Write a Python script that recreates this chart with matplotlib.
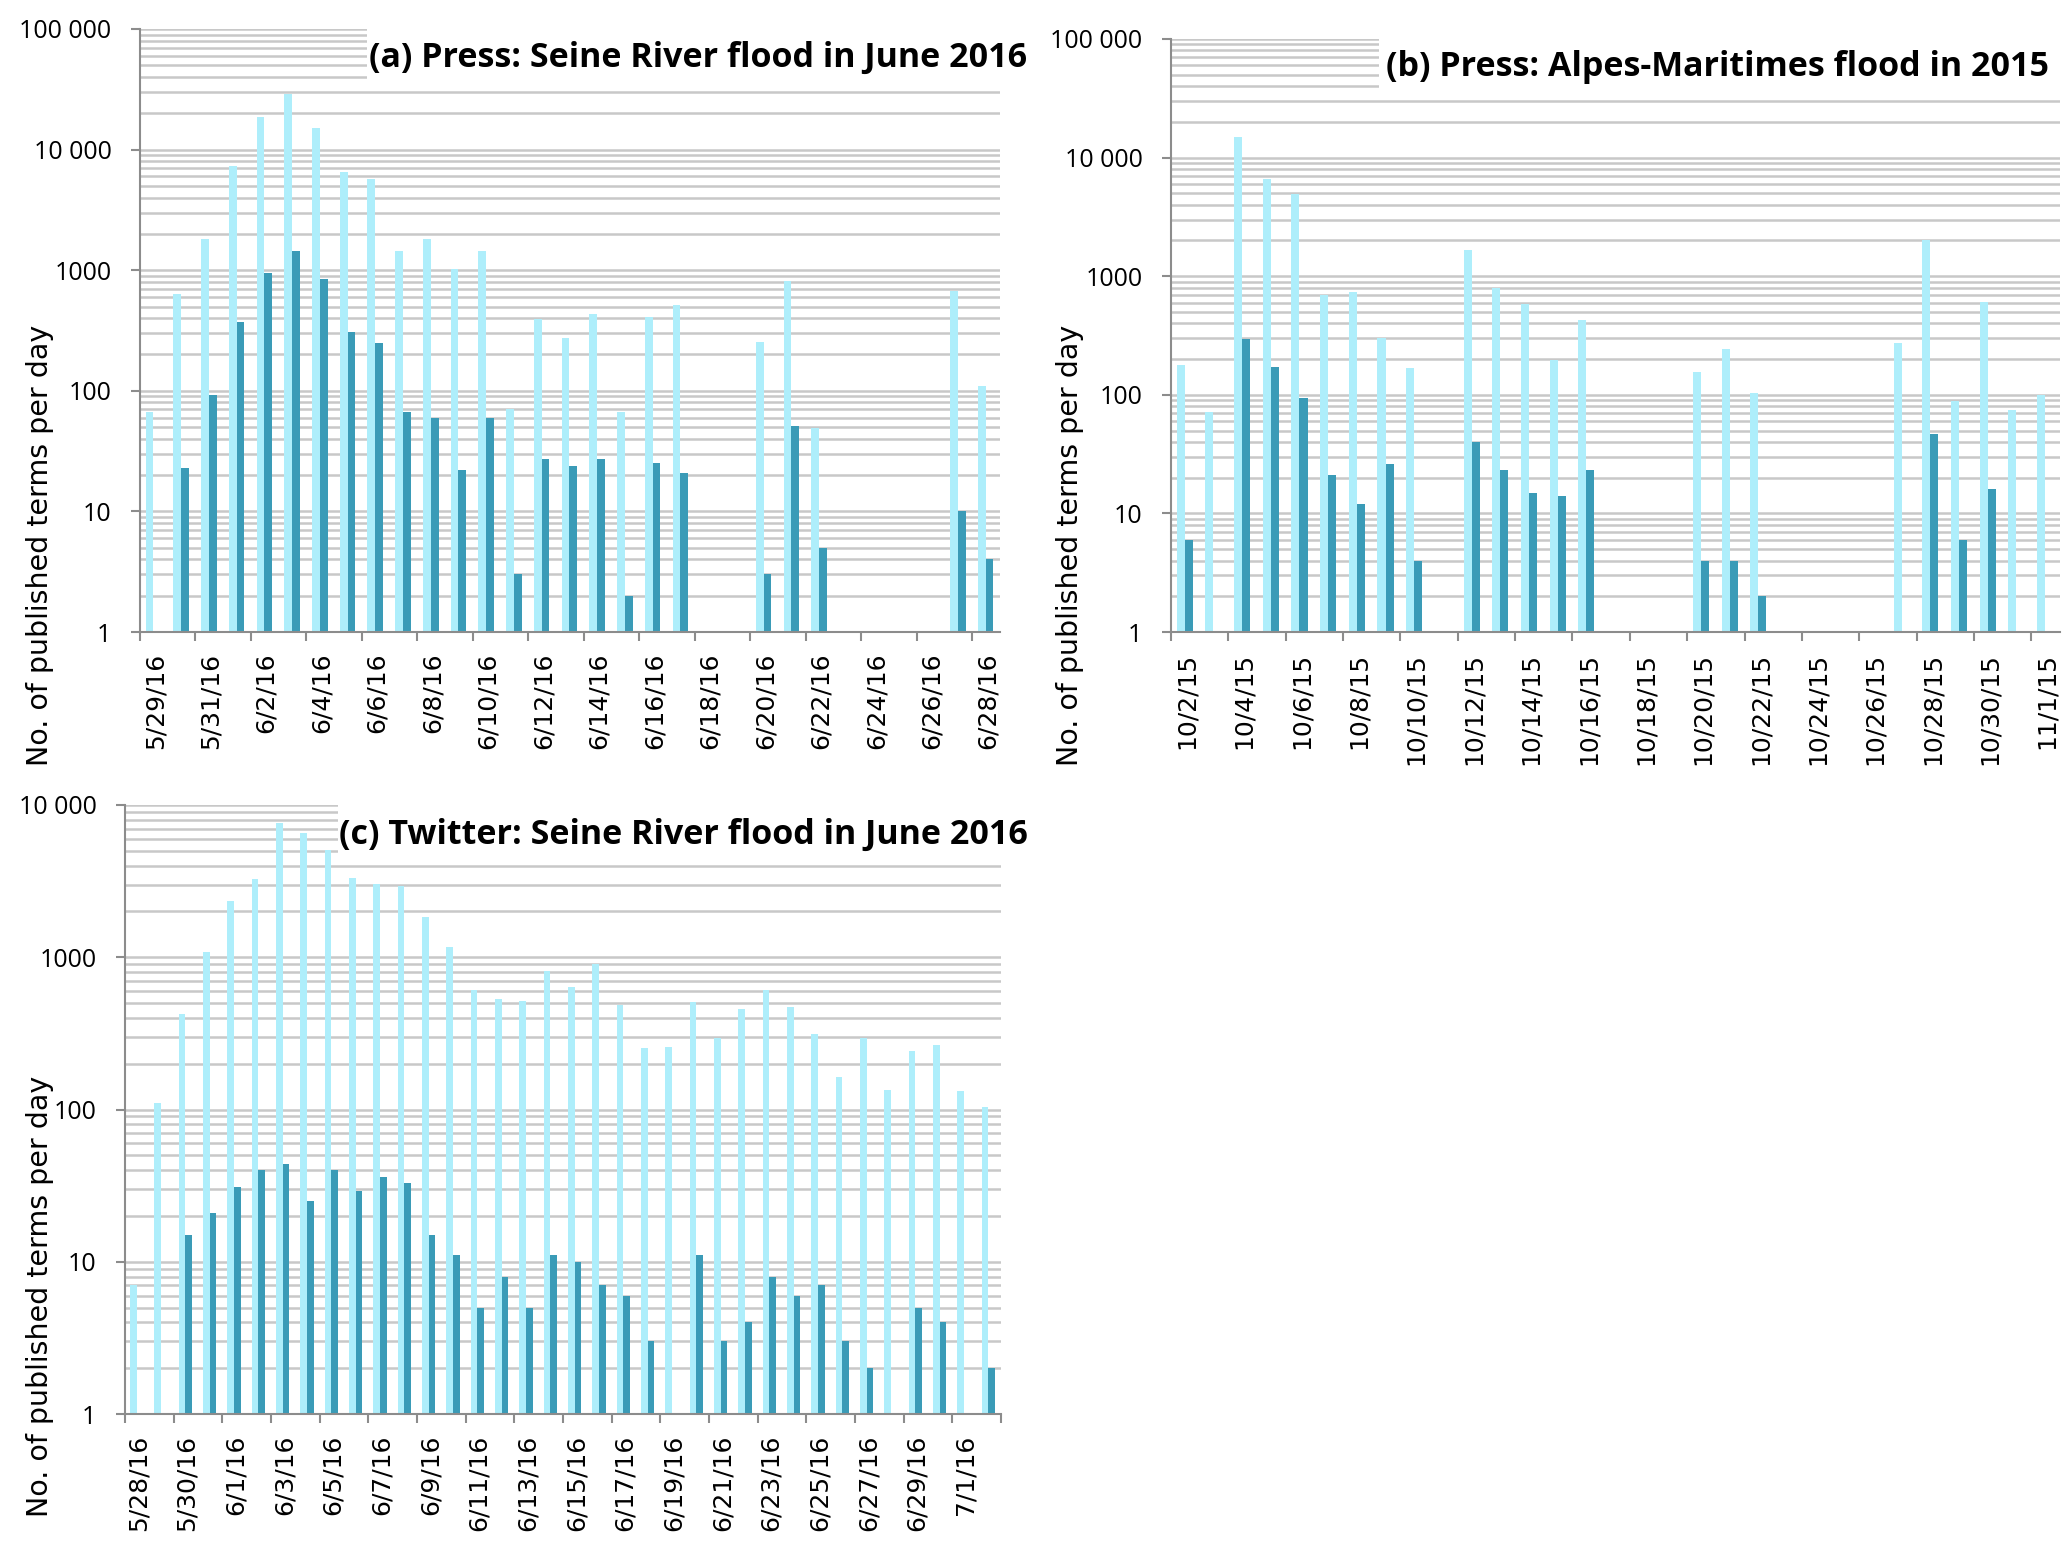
import numpy as np
import matplotlib
matplotlib.use("Agg")
import matplotlib.pyplot as plt
from matplotlib.patches import Rectangle

# ---- data ----
# (a) Press, Seine River flood, 5/29/16 .. 6/28/16
press_seine_all = [67, 640, 1830, 7300, 18800, 29000, 15200, 6500, 5700, 1430,
                   1820, 1030, 1430, 70, 395, 273, 435, 67, 413, 516,
                   0, 0, 253, 816, 49, 0, 0, 0, 0, 674, 109]
press_seine_sel = [0, 23, 92, 371, 944, 1455, 842, 306, 251, 67,
                   59, 22, 59, 3, 27, 24, 27, 2, 25, 21,
                   0, 0, 3, 51, 5, 0, 0, 0, 0, 10, 4]
ticks_a = ['5/29/16', '5/31/16', '6/2/16', '6/4/16', '6/6/16', '6/8/16',
           '6/10/16', '6/12/16', '6/14/16', '6/16/16', '6/18/16', '6/20/16',
           '6/22/16', '6/24/16', '6/26/16', '6/28/16']

# (b) Press, Alpes-Maritimes flood, 10/2/15 .. 11/1/15
press_am_all = [180, 72, 15000, 6570, 4970, 692, 738, 302, 167, 0,
                1656, 792, 581, 196, 431, 0, 0, 0, 156, 241,
                104, 0, 0, 0, 0, 274, 2037, 88, 608, 75, 100]
press_am_sel = [6, 0, 294, 170, 94, 21, 12, 26, 4, 0,
                40, 23, 15, 14, 23, 0, 0, 0, 4, 4,
                2, 0, 0, 0, 0, 0, 47, 6, 16, 0, 0]
ticks_b = ['10/2/15', '10/4/15', '10/6/15', '10/8/15', '10/10/15', '10/12/15',
           '10/14/15', '10/16/15', '10/18/15', '10/20/15', '10/22/15',
           '10/24/15', '10/26/15', '10/28/15', '10/30/15', '11/1/15']

# (c) Twitter, Seine River flood, 5/28/16 .. 7/2/16
tw_seine_all = [7, 111, 425, 1090, 2350, 3280, 7620, 6550, 5080, 3310,
                3040, 2935, 1836, 1161, 605, 534, 515, 815, 640, 897,
                487, 253, 257, 510, 296, 459, 605, 471, 314, 163,
                296, 135, 243, 267, 132, 104]
tw_seine_sel = [0, 0, 15, 21, 31, 40, 44, 25, 40, 29,
                36, 33, 15, 11, 5, 8, 5, 11, 10, 7,
                6, 3, 0, 11, 3, 4, 8, 6, 7, 3,
                2, 0, 5, 4, 0, 2]
ticks_c = ['5/28/16', '5/30/16', '6/1/16', '6/3/16', '6/5/16', '6/7/16',
           '6/9/16', '6/11/16', '6/13/16', '6/15/16', '6/17/16', '6/19/16',
           '6/21/16', '6/23/16', '6/25/16', '6/27/16', '6/29/16', '7/1/16']

LIGHT = '#aeeefb'
DARK = '#3a9bb7'
GRID = '#c8c8c8'
AXIS = '#8c8c8c'

W, H = 2067, 1550
fig = plt.figure(figsize=(W / 100, H / 100), dpi=100)


def px_rect(x0, y0, x1, y1):
    # pixel box (top-left origin) -> figure fraction rect
    return [x0 / W, 1 - y1 / H, (x1 - x0) / W, (y1 - y0) / H]


def draw_panel(box, all_vals, sel_vals, tick_labels, ymax, title, title_xy,
               white_box, ylab_xy):
    ax = fig.add_axes(px_rect(*box))
    n = len(all_vals)
    idx = np.arange(n)
    a = np.array(all_vals, dtype=float)
    s = np.array(sel_vals, dtype=float)
    ma = a > 0
    ms = s > 0
    ax.bar(idx[ma] + 0.34, a[ma], width=0.28, color=LIGHT, zorder=2)
    ax.bar(idx[ms] + 0.62, s[ms], width=0.28, color=DARK, zorder=2)

    ax.set_yscale('log')
    ax.set_ylim(1, ymax)
    ax.set_xlim(0, n)
    ax.set_axisbelow(True)

    decades = [10 ** k for k in range(int(np.log10(ymax)) + 1)]
    ylabels = [f'{d:,}'.replace(',', ' ') if d >= 10000 else str(d) for d in decades]
    ax.set_yticks(decades, ylabels)
    ax.yaxis.set_minor_locator(matplotlib.ticker.LogLocator(base=10, subs=np.arange(2, 10)))
    ax.yaxis.set_minor_formatter(matplotlib.ticker.NullFormatter())
    ax.grid(True, which='both', axis='y', color=GRID, linewidth=1.8)
    ax.tick_params(axis='y', which='major', length=6.5, width=1.5, color=AXIS,
                   pad=14, labelsize=18)
    ax.tick_params(axis='y', which='minor', length=0)
    for lab in ax.get_yticklabels():
        lab.set_family(['Open Sans', 'DejaVu Sans'])

    # tick marks every two days, labels centred on the day
    ax.set_xticks(np.arange(0, n + 1, 2), minor=True)
    ax.set_xticks(np.arange(0, 2 * len(tick_labels), 2) + 0.55, tick_labels,
                  rotation=90)
    ax.tick_params(axis='x', which='major', length=0, pad=15, labelsize=18)
    ax.tick_params(axis='x', which='minor', length=6.5, width=1.5, color=AXIS)

    for side in ['top', 'right']:
        ax.spines[side].set_visible(False)
    for side in ['left', 'bottom']:
        ax.spines[side].set_color(AXIS)
        ax.spines[side].set_linewidth(1.5)

    # white box behind the panel title hides the gridlines
    ax.add_patch(Rectangle((white_box[0] / W, 1 - white_box[3] / H),
                           (white_box[2] - white_box[0]) / W,
                           (white_box[3] - white_box[1]) / H,
                           transform=fig.transFigure, facecolor='white',
                           edgecolor='none', zorder=0.8, clip_on=False))
    fig.text(title_xy[0] / W, 1 - title_xy[1] / H, title, ha='right', va='center',
             fontsize=24.5, fontweight='bold', family=['Open Sans', 'DejaVu Sans'])
    fig.text(ylab_xy[0] / W, 1 - ylab_xy[1] / H, 'No. of published terms per day',
             rotation=90, ha='center', va='center', fontsize=20.5)
    return ax


draw_panel((140, 29, 1000, 632), press_seine_all, press_seine_sel, ticks_a,
           100000, '(a) Press: Seine River flood in June 2016', (1027, 58),
           (367, 0, 1040, 85), (40, 545))
draw_panel((1171, 39, 2060, 632), press_am_all, press_am_sel, ticks_b,
           100000, '(b) Press: Alpes-Maritimes flood in 2015', (2049, 67),
           (1379, 0, 2067, 93), (1070, 545))
draw_panel((125, 805, 1001, 1414), tw_seine_all, tw_seine_sel, ticks_c,
           10000, '(c) Twitter: Seine River flood in June 2016', (1028, 835),
           (338, 790, 1040, 858), (40, 1296))

fig.savefig('out.png', dpi=100, facecolor='white')
